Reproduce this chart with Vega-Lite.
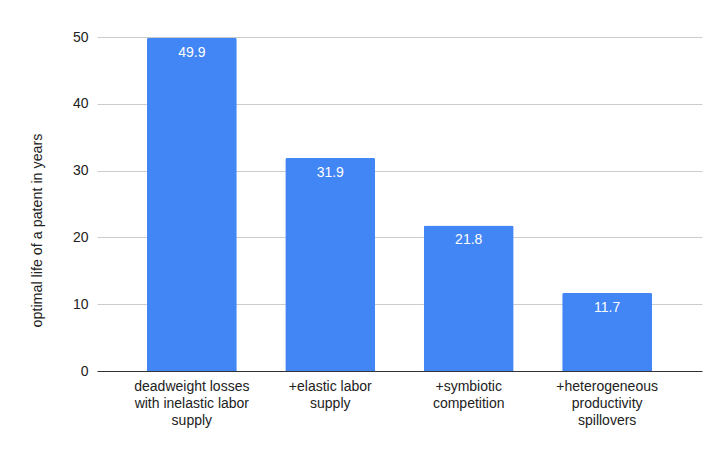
{
  "$schema": "https://vega.github.io/schema/vega-lite/v6.json",
  "width": 605,
  "height": 334,
  "autosize": {"type": "none"},
  "padding": {"left": 97, "top": 37, "right": 15, "bottom": 78},
  "background": "#ffffff",
  "config": {
    "font": "Liberation Sans",
    "view": {"stroke": null}
  },
  "data": {
    "values": [
      {"step": "deadweight losses|with inelastic labor|supply", "years": 49.9},
      {"step": "+elastic labor|supply", "years": 31.9},
      {"step": "+symbiotic|competition", "years": 21.8},
      {"step": "+heterogeneous|productivity|spillovers", "years": 11.7}
    ]
  },
  "encoding": {
    "x": {
      "field": "step",
      "type": "nominal",
      "sort": null,
      "scale": {"paddingInner": 0.35, "paddingOuter": 0.36},
      "axis": {
        "title": null,
        "labelAngle": 0,
        "labelExpr": "split(datum.value, '|')",
        "labelFontSize": 14,
        "labelColor": "#222222",
        "labelLineHeight": 17,
        "labelPadding": 8,
        "labelBaseline": "top",
        "ticks": false,
        "domainColor": "#333333",
        "domainWidth": 1,
        "grid": false
      }
    },
    "y": {
      "field": "years",
      "type": "quantitative",
      "scale": {"domain": [0, 50], "nice": false},
      "axis": {
        "title": "optimal life of a patent in years",
        "titleFontSize": 14.3,
        "titleFontWeight": "normal",
        "titleColor": "#222222",
        "titleAngle": 270,
        "titleAlign": "center",
        "titleBaseline": "middle",
        "titleX": -60,
        "titleY": 193,
        "values": [0, 10, 20, 30, 40, 50],
        "labelFontSize": 14,
        "labelColor": "#222222",
        "labelPadding": 9,
        "ticks": false,
        "domain": false,
        "gridColor": "#cccccc",
        "gridWidth": 1
      }
    }
  },
  "layer": [
    {
      "mark": {
        "type": "bar",
        "color": "#4285f4",
        "cornerRadiusTopLeft": 2,
        "cornerRadiusTopRight": 2
      }
    },
    {
      "mark": {
        "type": "text",
        "color": "#ffffff",
        "fontSize": 14,
        "baseline": "top",
        "dy": 8
      },
      "encoding": {
        "text": {"field": "years", "type": "quantitative", "format": ".1f"}
      }
    }
  ]
}
